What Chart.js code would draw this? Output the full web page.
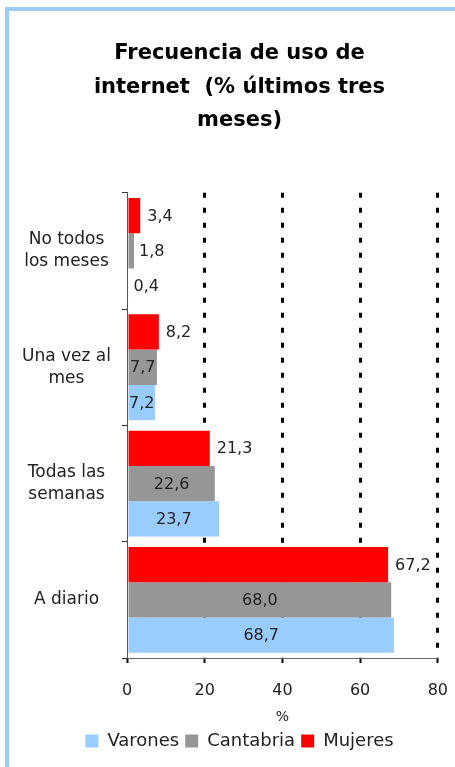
<!DOCTYPE html>
<html>
<head>
<meta charset="utf-8">
<script src="https://cdn.jsdelivr.net/npm/chart.js@4/dist/chart.umd.min.js"></script>
<style>
  html, body { margin: 0; padding: 0; background: #fff; overflow: hidden; width: 455px; height: 767px; }
  #frame {
    position: absolute; left: 5px; top: 7px; width: 470px; height: 770px;
    border-left: 4px solid #99CCFF; border-top: 4px solid #99CCFF;
  }
  #scoreChart { position: absolute; left: 0; top: 0; }
</style>
</head>
<body>
<div id="frame"></div>
<canvas id="scoreChart" width="466" height="767"></canvas>
<script>
// Chart data
const categories = [['No todos', 'los meses'], ['Una vez al', 'mes'], ['Todas las', 'semanas'], 'A diario'];
const mujeres = [3.4, 8.2, 21.3, 67.2];
const cantabria = [1.8, 7.7, 22.6, 68.0];
const varones = [0.4, 7.2, 23.7, 68.7];
const xMin = 0;
const xMax = 80;
const xStep = 20;

Chart.defaults.font.family = '"DejaVu Sans", sans-serif';

// Format numbers with a decimal comma
function formatValue(v) {
    return v.toFixed(1).replace('.', ',');
}

// Value labels next to / inside the bars
const barLabels = {
    id: 'barLabels',
    afterDatasetsDraw(chart) {
        const ctx = chart.ctx;
        ctx.save();
        ctx.font = '16px "DejaVu Sans", sans-serif';
        ctx.fillStyle = '#222';
        ctx.textBaseline = 'middle';
        chart.data.datasets.forEach((ds, i) => {
            const meta = chart.getDatasetMeta(i);
            meta.data.forEach((bar, j) => {
                const text = formatValue(ds.data[j]);
                const w = ctx.measureText(text).width;
                const len = bar.x - bar.base;
                let x;
                if (ds.labelOutside) {
                    ctx.textAlign = 'left';
                    x = bar.x + 7;
                } else if (len < w * 0.6) {
                    ctx.textAlign = 'left';
                    x = bar.x + 5;
                } else {
                    ctx.textAlign = 'center';
                    x = (bar.x + bar.base) / 2;
                }
                ctx.fillText(text, x, bar.y + 1);
            });
        });
        ctx.restore();
    }
};

const ctx = document.getElementById('scoreChart').getContext('2d');

new Chart(ctx, {
    type: 'bar',
    data: {
        labels: categories,
        datasets: [
            { label: 'Mujeres', data: mujeres, backgroundColor: '#FF0000', labelOutside: true },
            { label: 'Cantabria', data: cantabria, backgroundColor: '#969696' },
            { label: 'Varones', data: varones, backgroundColor: '#99CCFF' }
        ]
    },
    options: {
        indexAxis: 'y',
        responsive: false,
        animation: false,
        categoryPercentage: 0.91,
        barPercentage: 1.0,
        layout: {
            padding: { left: 20, right: 7, top: 37, bottom: 7 }
        },
        plugins: {
            title: {
                display: true,
                text: ['Frecuencia de uso de', 'internet  (% últimos tres', 'meses)'],
                color: '#000',
                font: { size: 21, weight: 'bold', lineHeight: 1.6 },
                padding: { top: 0, bottom: 55 }
            },
            legend: {
                position: 'bottom',
                reverse: true,
                labels: {
                    boxWidth: 13,
                    boxHeight: 13,
                    color: '#222',
                    font: { size: 18 },
                    padding: 6
                }
            },
            tooltip: { enabled: false }
        },
        scales: {
            x: {
                min: xMin,
                max: xMax,
                ticks: { stepSize: xStep, color: '#222', font: { size: 16 }, padding: 18 },
                grid: {
                    color: c => (c.tick && c.tick.value === 0) ? 'rgba(0,0,0,0)' : '#000',
                    lineWidth: 3,
                    tickColor: '#000',
                    tickWidth: 2,
                    tickLength: 5
                },
                border: { color: '#666', width: 1, dash: [5, 10] },
                title: {
                    display: true,
                    text: '%',
                    color: '#222',
                    font: { size: 14 },
                    padding: { top: -9, bottom: 0 }
                }
            },
            y: {
                ticks: { crossAlign: 'center', padding: 11, color: '#222', font: { size: 17, lineHeight: 1.3 } },
                grid: { drawOnChartArea: false, offset: true, tickLength: 5, color: '#333' },
                border: { color: '#555', width: 1 },
                afterFit(scale) { scale.width = 107; }
            }
        }
    },
    plugins: [barLabels]
});
</script>
</body>
</html>
